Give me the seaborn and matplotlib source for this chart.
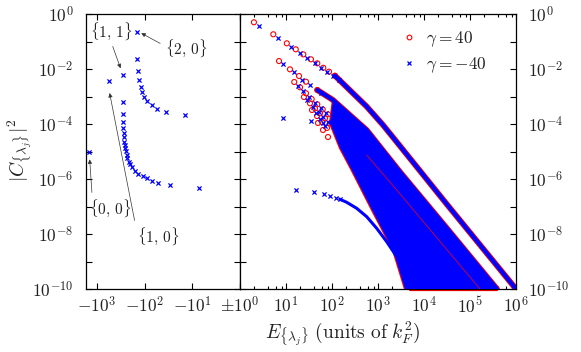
import matplotlib
matplotlib.use("Agg")
import matplotlib.pyplot as plt
from matplotlib.lines import Line2D
from matplotlib.ticker import FixedLocator, FixedFormatter, LogLocator, NullLocator, NullFormatter
import seaborn as sns

# ─────────────────────────────────────────────
# DATA  (E in units of k_F^2, C = |C_{lambda_j}|^2)
# ─────────────────────────────────────────────
# left panel: bound states for gamma = -40, stored as |E| (axis shows -|E|)
ser20_E = [142, 142, 137, 129, 120.5, 112, 103, 90.4, 71, 55.7, 35.6, 14.2]
ser20_C = [0.22, 0.0237, 0.00845, 0.00398, 0.00216, 0.00146, 0.00096,
           6.87e-4, 5.04e-4, 3.63e-4, 2.82e-4, 2.04e-4]
ser1x_E = [280, 280, 280, 280, 280, 274, 270, 267, 258, 254, 245, 237,
           231, 215, 202, 184, 159, 136, 110, 90, 71, 52, 29, 7.2]
ser1x_C = [6.03e-3, 6.46e-4, 2.24e-4, 1.2e-4, 6.9e-5, 4.57e-5, 3.31e-5,
           2.29e-5, 1.74e-5, 1.35e-5, 1.05e-5, 7.4e-6, 5.75e-6, 4.27e-6,
           3.55e-6, 2.75e-6, 2.0e-6, 1.51e-6, 1.29e-6, 1.07e-6, 8.7e-7,
           6.9e-7, 5.9e-7, 4.8e-7]
single_E = [565, 1480]          # {1,0}, {0,0}
single_C = [3.7e-3, 1.0e-5]

# labels of the lowest states, with arrow tip and text position
state_labels = [r"$\{1,\,1\}$", r"$\{2,\,0\}$", r"$\{0,\,0\}$", r"$\{1,\,0\}$"]
state_pt_E = [313, 125, 1430, 550]
state_pt_C = [9.5e-3, 0.212, 5.8e-6, 1.5e-3]
state_txt_E = [506, 13.6, 531, 52.4]
state_txt_C = [0.241, 0.058, 8.8e-8, 8.45e-9]
state_relpos = [(0.5, 0.0), (0.0, 0.6), (0.08, 1.0), (0.0, 0.7)]

# right panel, gamma = +40 (red) and gamma = -40 (blue): first resolved points of each branch
famA_red_E = [2.01, 5.30, 10.4, 16.3, 23.8, 34.9, 47.9, 64.7, 86.1, 116]
famA_red_C = [0.50, 0.183, 0.086, 0.052, 0.034, 0.0225, 0.0161, 0.0111, 0.0080, 0.0057]
famA_blue_E = [2.59, 6.60, 12.7, 19.7, 28.6, 42.7, 57.7, 77.9, 105, 142]
famA_blue_C = [0.376, 0.131, 0.0647, 0.0382, 0.0251, 0.0165, 0.0113, 0.0081, 0.0058, 0.00415]
famB_red_E = [7.05, 12.2, 19.2, 27.2, 47.9]
famB_red_C = [0.0195, 0.00975, 0.00556, 0.00345, 0.00172]
famB_blue_E = [8.48, 14.6, 22.8, 33.2, 57.7]
famB_blue_C = [0.0148, 0.00746, 0.00415, 0.00262, 0.00129]
famC_red_E = [15.1, 20.2, 27.2, 36.2, 47.9, 62.8, 81.9]
famC_red_C = [3.37e-3, 2.16e-3, 1.31e-3, 8.1e-4, 5.2e-4, 3.4e-4, 2.25e-4]
famC_blue_E = [18.1, 24.0, 32.4, 43.1, 57.1, 74.8]
famC_blue_C = [2.51e-3, 1.61e-3, 9.75e-4, 6.05e-4, 3.88e-4, 2.55e-4]
famD_red_E = [24.6, 33.2, 42.7, 54.8, 70.4, 90.5]
famD_red_C = [9.6e-4, 5.66e-4, 3.72e-4, 2.45e-4, 1.61e-4, 1.06e-4]
famD_blue_E = [29.3, 39.6, 50.9, 65.3, 83.9]
famD_blue_C = [7.16e-4, 4.22e-4, 2.78e-4, 1.83e-4, 1.2e-4]
famE_red_E = [36.7, 47.2, 60.6, 77.9, 49.6, 63.7, 81.9]
famE_red_C = [3.23e-4, 1.95e-4, 1.18e-4, 7.2e-5, 1.09e-4, 6.05e-5, 3.37e-5]
famE_blue_E = [43.8, 56.2, 72.2, 8.74, 34.4, 62.8]
famE_blue_C = [2.41e-4, 1.46e-4, 8.8e-5, 1.69e-4, 1.32e-4, 1.06e-4]
low_blue_E = [16.3, 40.6, 67.0, 90.5, 122, 149]
low_blue_C = [3.98e-7, 3.37e-7, 2.85e-7, 2.47e-7, 2.09e-7, 1.83e-7]

# dense tails, where the markers merge into solid bands
bandA_E = [116, 568, 1285, 3010, 31100, 1e6]
bandA_C = [0.0057, 4.3e-4, 9.2e-5, 1.58e-5, 1.23e-7, 1e-10]
bandB_E = [47.9, 105, 568, 3010, 31100, 386000]
bandB_C = [0.00172, 7.46e-4, 6.0e-5, 1.8e-6, 1.65e-8, 1e-10]
low_tail_E = [149, 209, 344, 568, 937, 1545, 2550]
low_tail_C = [1.83e-7, 1.42e-7, 8.6e-8, 4.26e-8, 1.61e-8, 5.25e-9, 1.5e-9]
# outline of the region filled by overlapping markers
wedge_E = [105, 90.5, 149, 268, 741, 2120, 3860, 386000, 31100, 3010, 568]
wedge_C = [7.46e-4, 1.06e-4, 1.34e-5, 2.12e-6, 7.46e-8, 2.62e-9, 1e-10,
           1e-10, 1.65e-8, 1.8e-6, 6.0e-5]
inner_red_E = [568, 2550, 165000]
inner_red_C = [7.46e-6, 3.98e-7, 1e-10]
floor_red_E = [4960, 386000]
floor_red_C = [0.93e-10, 0.93e-10]

y_ticks = [1e0, 1e-1, 1e-2, 1e-3, 1e-4, 1e-5, 1e-6, 1e-7, 1e-8, 1e-9, 1e-10]
y_tick_labels = [r"$10^{0}$", "", r"$10^{-2}$", "", r"$10^{-4}$", "", r"$10^{-6}$",
                 "", r"$10^{-8}$", "", r"$10^{-10}$"]
xl_ticks = [1000, 100, 10, 1]
xl_tick_labels = [r"$-10^{3}$", r"$-10^{2}$", r"$-10^{1}$", r"$\pm10^{0}$"]
xr_ticks = [1, 10, 100, 1e3, 1e4, 1e5, 1e6]
xr_tick_labels = ["", r"$10^{1}$", r"$10^{2}$", r"$10^{3}$", r"$10^{4}$", r"$10^{5}$", r"$10^{6}$"]

RED = "#ff0000"
BLUE = "#0000ff"
TXT = "#222222"

# ─────────────────────────────────────────────
# STYLE
# ─────────────────────────────────────────────
sns.set_theme(style="ticks")
plt.rcParams.update({
    "font.family": ["DejaVu Serif"],
    "mathtext.fontset": "cm",
    "axes.linewidth": 0.9,
    "axes.edgecolor": "black",
    "xtick.color": "black",
    "ytick.color": "black",
    "xtick.labelcolor": TXT,
    "ytick.labelcolor": TXT,
})

fig = plt.figure(figsize=(5.81, 3.52), dpi=100)
W, H = 581, 352
axL = fig.add_axes([86 / W, 1 - 289 / H, 154 / W, 275 / H])
axR = fig.add_axes([240 / W, 1 - 289 / H, 276 / W, 275 / H])

for ax in (axL, axR):
    ax.set_xscale("log")
    ax.set_yscale("log")
    ax.set_ylim(1e-10, 1)
    ax.set_facecolor("white")

axL.set_xlim(1700, 1)
axR.set_xlim(1, 1e6)

# ── left panel ──────────────────────────────
xs = dict(marker="x", color=BLUE, s=9, linewidth=0.9, zorder=3)
sns.scatterplot(x=ser20_E, y=ser20_C, ax=axL, **xs)
sns.scatterplot(x=ser1x_E, y=ser1x_C, ax=axL, **xs)
sns.scatterplot(x=single_E, y=single_C, ax=axL, **xs)

for lab, pe, pc, te, tc, rp in zip(state_labels, state_pt_E, state_pt_C,
                                   state_txt_E, state_txt_C, state_relpos):
    axL.annotate(lab, xy=(pe, pc), xytext=(te, tc), textcoords="data",
                 ha="center", va="center", fontsize=11, color=TXT,
                 arrowprops=dict(arrowstyle="-|>", lw=0.5, color="#333333",
                                 mutation_scale=6, shrinkA=1, shrinkB=1, relpos=rp))

# ── right panel ─────────────────────────────
# red (gamma = 40) underneath, blue (gamma = -40) on top
line = dict(sort=False, estimator=None, ax=axR)
axR.fill(wedge_E, wedge_C, facecolor=RED, edgecolor=RED, lw=1.6, zorder=2)
sns.lineplot(x=bandA_E, y=bandA_C, color=RED, lw=4.2, zorder=2, **line)
sns.lineplot(x=bandB_E, y=bandB_C, color=RED, lw=4.2, zorder=2, **line)
sns.lineplot(x=floor_red_E, y=floor_red_C, color=RED, lw=1.6, zorder=2, clip_on=False, **line)

axR.fill(wedge_E, wedge_C, facecolor=BLUE, edgecolor="none", zorder=3)
sns.lineplot(x=bandA_E, y=bandA_C, color=BLUE, lw=3.0, zorder=3, **line)
sns.lineplot(x=bandB_E, y=bandB_C, color=BLUE, lw=3.0, zorder=3, **line)
sns.lineplot(x=low_tail_E, y=low_tail_C, color=BLUE, lw=2.2, zorder=3, **line)
sns.lineplot(x=inner_red_E, y=inner_red_C, color=RED, lw=0.5, zorder=3.5, **line)

os_ = dict(marker="o", facecolor="none", edgecolor=RED, s=13, linewidth=0.8, zorder=2.5)
for e, c in [(famA_red_E, famA_red_C), (famB_red_E, famB_red_C), (famC_red_E, famC_red_C),
             (famD_red_E, famD_red_C), (famE_red_E, famE_red_C)]:
    sns.scatterplot(x=e, y=c, ax=axR, **os_)
for e, c in [(famA_blue_E, famA_blue_C), (famB_blue_E, famB_blue_C), (famC_blue_E, famC_blue_C),
             (famD_blue_E, famD_blue_C), (famE_blue_E, famE_blue_C), (low_blue_E, low_blue_C)]:
    sns.scatterplot(x=e, y=c, ax=axR, **xs)

handles = [Line2D([], [], ls="none", marker="o", mfc="none", mec=RED, ms=3.4, mew=0.8),
           Line2D([], [], ls="none", marker="x", color=BLUE, ms=2.8, mew=0.9)]
axR.legend(handles, [r"$\gamma = 40$", r"$\gamma = -40$"], loc="upper left",
           bbox_to_anchor=(0.53, 0.995), frameon=False, fontsize=12.5,
           handlelength=1.0, handletextpad=0.5, labelspacing=0.4, borderpad=0.3,
           labelcolor=TXT)

# ── ticks ───────────────────────────────────
for ax in (axL, axR):
    ax.yaxis.set_major_locator(FixedLocator(y_ticks))
    ax.yaxis.set_major_formatter(FixedFormatter(y_tick_labels))
    ax.yaxis.set_minor_locator(NullLocator())
    ax.tick_params(which="both", direction="in", top=True, bottom=True,
                   left=True, right=True, width=0.8, labelsize=12.5)
    ax.tick_params(which="major", length=4.5)
    ax.tick_params(axis="y", pad=9)
    ax.tick_params(axis="x", pad=5)
    ax.grid(False)

axL.xaxis.set_major_locator(FixedLocator(xl_ticks))
axL.xaxis.set_major_formatter(FixedFormatter(xl_tick_labels))
axL.xaxis.set_minor_locator(NullLocator())
axL.tick_params(axis="y", labelleft=True, labelright=False)

axR.xaxis.set_major_locator(FixedLocator(xr_ticks))
axR.xaxis.set_major_formatter(FixedFormatter(xr_tick_labels))
axR.xaxis.set_minor_locator(LogLocator(base=10, subs=(2, 4, 6, 8), numticks=20))
axR.xaxis.set_minor_formatter(NullFormatter())
axR.tick_params(which="minor", length=2.2)
axR.tick_params(axis="y", labelleft=False, labelright=True)

fig.text(20 / W, 1 - 150 / H, r"$|C_{\{\lambda_j\}}|^2$", rotation=90,
         ha="center", va="center", fontsize=14, color=TXT)
fig.text(343 / W, 1 - 334 / H, r"$E_{\{\lambda_j\}}\ \mathrm{(units\ of}\ k_F^2\mathrm{)}$",
         ha="center", va="center", fontsize=14, color=TXT)

fig.savefig("out.png", dpi=100, facecolor="white")
